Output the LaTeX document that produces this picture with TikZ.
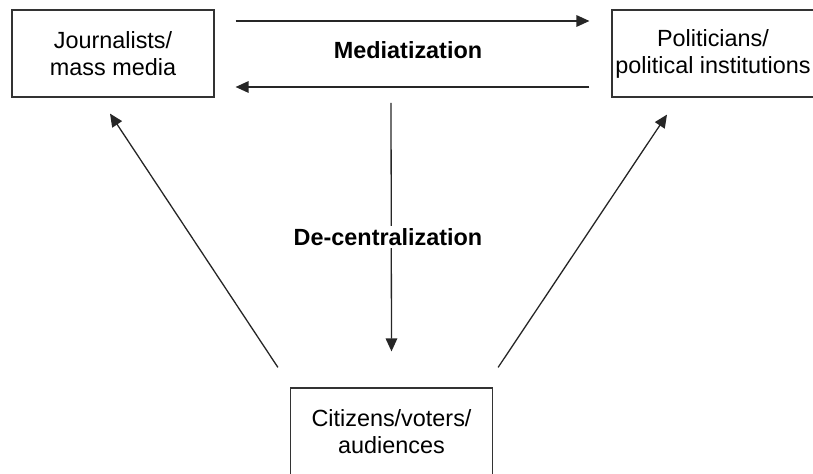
\documentclass[tikz,border=0pt]{standalone}
\usepackage{fontspec}
\setmainfont{Liberation Sans}
\usetikzlibrary{arrows.meta,calc}
\tikzset{
  box/.style={draw=black!80, line width=0.6pt, minimum width=101pt, minimum height=43.5pt, inner sep=0pt, align=center, font=\fontsize{11.7}{13.5}\selectfont},
  conn/.style={draw=black!85, line width=0.65pt, -{Triangle[length=6.5pt,width=5.8pt]}},
  lbl/.style={font=\bfseries\fontsize{11.7}{13.5}\selectfont, inner sep=1pt},
}
\begin{document}
\begin{tikzpicture}[x=0.5pt,y=-0.5pt]
\useasboundingbox (0,0) rectangle (813,474);
\node[box] (J) at (113,53.5) {Journalists/\\mass media};
\node[box] (P) at (713,53.5) {Politicians/\\political institutions};
\node[box] (C) at (391.5,431.5) {Citizens/voters/\\audiences};
\draw[conn] ($(J.east)+(21,-32.5)$) -- ($(P.west)+(-22,-32.5)$);
\draw[conn] ($(P.west)+(-22,33.5)$) -- ($(J.east)+(21,33.5)$);
\node[lbl] (M) at (408,50) {Mediatization};
\coordinate (vtop) at (391,103);
\draw[conn] (vtop) -- ($(C.north)+(0,-36)$);
\node[lbl, fill=white] (D) at (388,237) {De-centralization};
\draw[conn] ($(C.north west)+(-12,-20)$) -- ($(J.south)+(-3,16)$);
\draw[conn] ($(C.north east)+(5,-20)$) -- ($(P.south)+(-46,17)$);
\end{tikzpicture}
\end{document}
